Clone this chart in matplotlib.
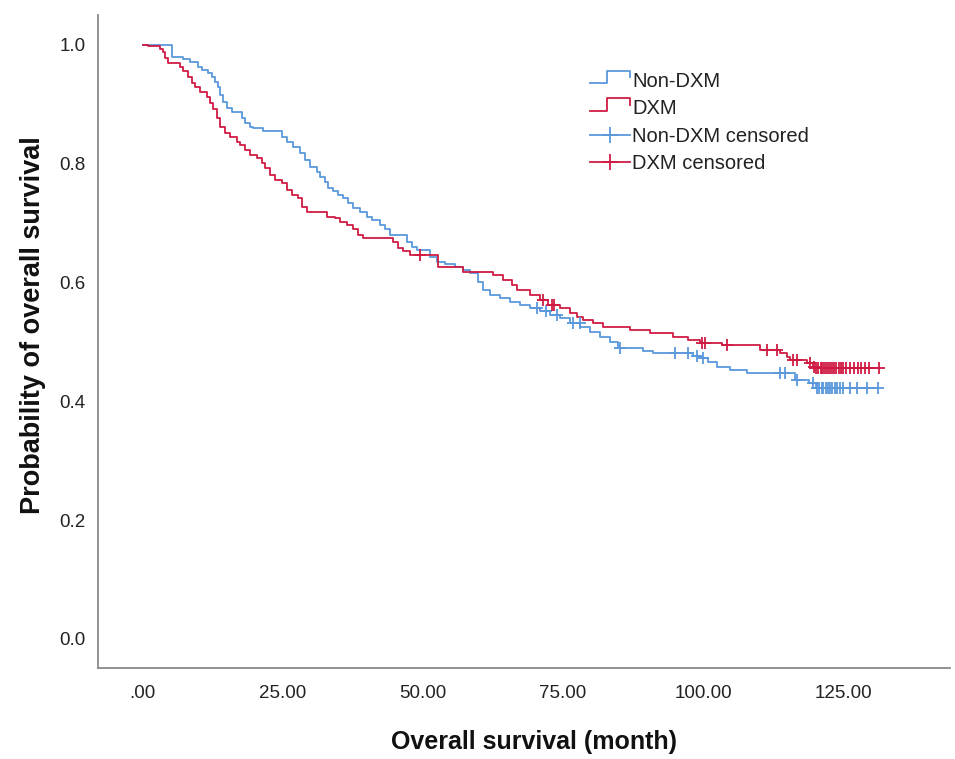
import matplotlib
matplotlib.use("Agg")
import matplotlib.pyplot as plt
import numpy as np
from matplotlib.lines import Line2D
from matplotlib.legend_handler import HandlerBase

# ---------------- data ----------------
nondxm_time = [0.0, 5.18, 7.14, 8.39, 9.82, 10.54, 11.61, 12.32, 12.86, 13.39, 13.75, 14.29,
               15.0, 15.89, 17.68, 18.21, 19.11, 19.64, 21.43, 24.82, 25.71, 26.79, 28.04,
               28.93, 29.82, 31.07, 31.61, 32.5, 33.04, 33.93, 34.82, 35.71, 36.61, 37.5,
               38.75, 40.0, 40.89, 42.32, 43.21, 44.11, 47.14, 48.04, 48.93, 51.25, 52.5,
               53.93, 55.71, 57.14, 58.39, 59.82, 60.71, 61.96, 63.75, 65.54, 67.32, 69.11,
               70.89, 72.68, 74.46, 76.25, 78.04, 79.82, 81.61, 83.39, 84.82, 89.29, 91.07,
               98.21, 99.46, 100.89, 102.5, 104.82, 107.86, 116.43, 119.0, 120.2]
nondxm_surv = [1.0, 0.980, 0.976, 0.971, 0.963, 0.958, 0.953, 0.946, 0.938, 0.928, 0.916, 0.904,
               0.894, 0.886, 0.877, 0.869, 0.862, 0.859, 0.854, 0.845, 0.837, 0.828, 0.818,
               0.806, 0.795, 0.786, 0.778, 0.769, 0.759, 0.753, 0.747, 0.742, 0.734, 0.726,
               0.719, 0.710, 0.705, 0.697, 0.689, 0.680, 0.668, 0.660, 0.655, 0.643, 0.635,
               0.631, 0.626, 0.621, 0.616, 0.601, 0.588, 0.579, 0.574, 0.567, 0.562, 0.557,
               0.551, 0.545, 0.540, 0.532, 0.525, 0.517, 0.508, 0.500, 0.490, 0.485, 0.481,
               0.476, 0.473, 0.466, 0.458, 0.453, 0.448, 0.436, 0.430, 0.423]
nondxm_censored = [70.4, 72.0, 73.9, 76.8, 78.0, 85.2, 95.0, 97.3, 98.9, 100.0, 113.8, 114.6,
                   116.8, 119.6, 120.4, 120.8, 121.2, 121.5, 121.9, 122.3, 122.7, 123.1,
                   123.5, 124.0, 124.5, 125.0, 126.3, 127.5, 129.3, 131.3]

dxm_time = [0.0, 0.89, 3.04, 3.57, 3.93, 4.46, 6.61, 7.14, 8.04, 8.75, 9.29, 10.18, 11.43,
            11.96, 12.5, 13.21, 13.75, 14.64, 15.54, 16.79, 17.32, 18.21, 19.11, 20.36, 21.25,
            21.79, 22.68, 23.57, 24.82, 25.71, 26.61, 27.68, 28.39, 29.29, 32.86, 34.29,
            35.18, 36.43, 37.5, 38.39, 39.29, 44.64, 45.54, 46.43, 47.68, 52.68, 57.14, 62.5,
            64.29, 65.89, 66.79, 69.11, 70.89, 72.32, 74.46, 76.25, 77.5, 78.57, 80.36, 82.14,
            86.96, 90.54, 94.64, 97.32, 99.46, 103.39, 110.18, 113.75, 115.0, 115.54, 118.57,
            119.64, 120.0]
dxm_surv = [1.0, 0.997, 0.992, 0.987, 0.978, 0.970, 0.963, 0.955, 0.946, 0.936, 0.928, 0.921,
            0.912, 0.902, 0.891, 0.877, 0.862, 0.852, 0.845, 0.837, 0.832, 0.823, 0.815, 0.810,
            0.801, 0.793, 0.781, 0.773, 0.768, 0.756, 0.747, 0.742, 0.727, 0.719, 0.710, 0.709,
            0.702, 0.697, 0.689, 0.680, 0.675, 0.668, 0.658, 0.652, 0.646, 0.626, 0.618, 0.613,
            0.604, 0.596, 0.588, 0.579, 0.571, 0.562, 0.557, 0.549, 0.542, 0.537, 0.532, 0.525,
            0.520, 0.515, 0.508, 0.503, 0.498, 0.495, 0.487, 0.481, 0.475, 0.470, 0.465,
            0.458, 0.456]
dxm_censored = [49.5, 71.4, 73.0, 73.4, 99.8, 100.4, 104.3, 111.4, 113.2, 116.1, 116.8, 119.1,
                119.8, 120.2, 120.6, 121.0, 121.3, 121.6, 122.0, 122.3, 122.7, 123.0, 123.4,
                123.8, 124.2, 124.6, 125.0, 125.5, 126.2, 126.9, 127.6, 128.3, 129.0, 129.6,
                131.5]

x_ticks = [0, 25, 50, 75, 100, 125]
x_tick_labels = [".00", "25.00", "50.00", "75.00", "100.00", "125.00"]
y_ticks = [0.0, 0.2, 0.4, 0.6, 0.8, 1.0]
y_tick_labels = ["0.0", "0.2", "0.4", "0.6", "0.8", "1.0"]

labels = ["Non-DXM", "DXM", "Non-DXM censored", "DXM censored"]
BLUE = "#5A98DC"
RED = "#CF1B43"

plt.rcParams['font.family'] = ['Liberation Sans', 'DejaVu Sans']

W, H = 955, 759
fig = plt.figure(figsize=(W / 100, H / 100), dpi=100)
ax = fig.add_axes([98 / W, 1 - 668 / H, (950 - 98) / W, (668 - 15) / H])


def step_curve(times, surv, cens):
    t = list(times) + [max(cens)]
    s = list(surv) + [surv[-1]]
    return np.array(t), np.array(s)


def surv_at(times, surv, tc):
    idx = np.searchsorted(np.array(times), np.array(tc), side='right') - 1
    return np.array(surv)[idx]


lw = 1.3
for times, surv, cens, col in [(nondxm_time, nondxm_surv, nondxm_censored, BLUE),
                               (dxm_time, dxm_surv, dxm_censored, RED)]:
    t, s = step_curve(times, surv, cens)
    ax.step(t, s, where='post', color=col, lw=lw, zorder=3)
    ax.plot(cens, surv_at(times, surv, cens), linestyle='none', marker='+',
            markersize=9, markeredgewidth=1.3, color=col, zorder=4)

ax.set_xlim(-8.0, 144.1)
ax.set_ylim(-0.049, 1.05)
ax.set_xticks(x_ticks)
ax.set_xticklabels(x_tick_labels)
ax.set_yticks(y_ticks)
ax.set_yticklabels(y_tick_labels)
ax.tick_params(axis='both', length=0, labelsize=13.5, labelcolor='#222222')
ax.tick_params(axis='x', pad=12)
ax.tick_params(axis='y', pad=9)
for sp in ['top', 'right']:
    ax.spines[sp].set_visible(False)
for sp in ['left', 'bottom']:
    ax.spines[sp].set_color('#8a8a8a')
    ax.spines[sp].set_linewidth(1.3)

ax.set_xlabel("Overall survival (month)", fontsize=18, fontweight='bold', color='#111111')
ax.set_ylabel("Probability of overall survival", fontsize=19.5, fontweight='bold', color='#111111')
ax.xaxis.set_label_coords((534 - 98) / (950 - 98), (668 - 730) / (668 - 15))
ax.yaxis.set_label_coords((20 - 98) / (950 - 98), (668 - 325) / (668 - 15))
ax.yaxis.label.set_va('top')


class StepHandler(HandlerBase):
    def create_artists(self, legend, orig_handle, xdescent, ydescent, width, height, fontsize, trans):
        x0, y0 = -xdescent, -ydescent
        xs = [x0, x0 + 0.43 * width, x0 + 0.43 * width, x0 + width, x0 + width]
        ys = [y0 + 0.25 * height, y0 + 0.25 * height, y0 + 1.15 * height, y0 + 1.15 * height,
              y0 + 0.7 * height]
        ln = Line2D(xs, ys, color=orig_handle.get_color(), lw=orig_handle.get_linewidth(),
                    transform=trans)
        return [ln]


class CensHandler(HandlerBase):
    def create_artists(self, legend, orig_handle, xdescent, ydescent, width, height, fontsize, trans):
        x0, y0 = -xdescent, -ydescent
        ym = y0 + 0.5 * height
        ln = Line2D([x0, x0 + width], [ym, ym], color=orig_handle.get_color(),
                    lw=orig_handle.get_linewidth(), transform=trans)
        mk = Line2D([x0 + 0.5 * width], [ym], color=orig_handle.get_color(), marker='+',
                    markersize=11, markeredgewidth=1.3, linestyle='none', transform=trans)
        return [ln, mk]


h_nd = Line2D([], [], color=BLUE, lw=lw)
h_d = Line2D([], [], color=RED, lw=lw)
h_ndc = Line2D([], [], color=BLUE, lw=lw)
h_dc = Line2D([], [], color=RED, lw=lw)
step_h = StepHandler()
cens_h = CensHandler()
leg = ax.legend([h_nd, h_d, h_ndc, h_dc], labels,
                handler_map={h_nd: step_h, h_d: step_h, h_ndc: cens_h, h_dc: cens_h},
                loc='upper left', bbox_to_anchor=(590 / W, 1 - 72 / H),
                bbox_transform=fig.transFigure, frameon=False, fontsize=14.5,
                handlelength=2.0, handletextpad=0.1, labelspacing=0.42,
                borderpad=0, borderaxespad=0)
for txt in leg.get_texts():
    txt.set_color('#222222')

fig.savefig("out.png", dpi=100)
